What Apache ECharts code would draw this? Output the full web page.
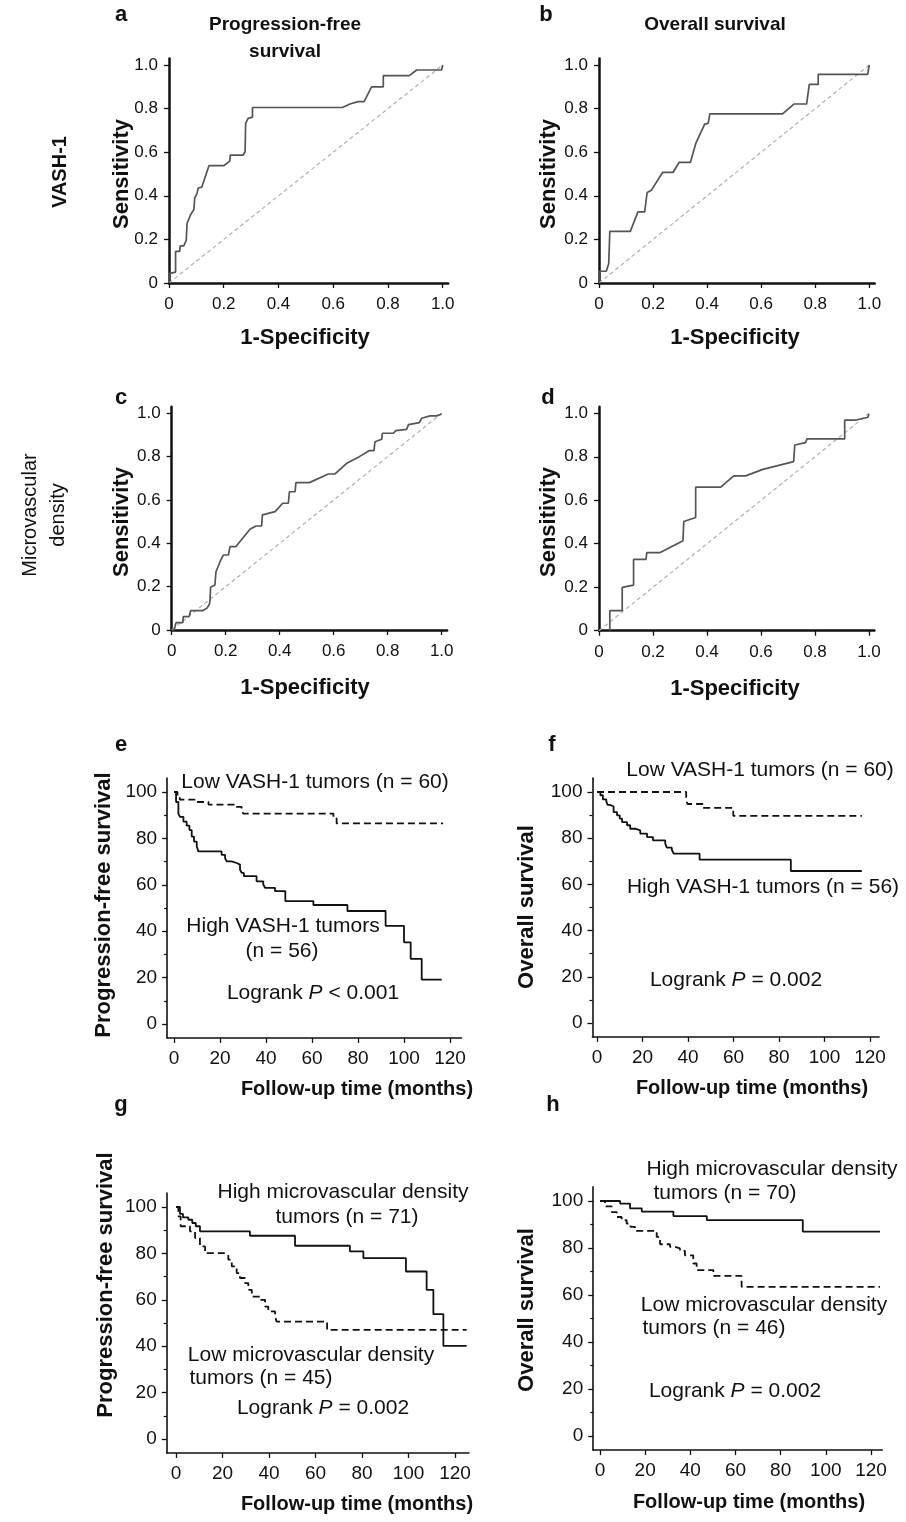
<!DOCTYPE html>
<html>
<head>
<meta charset="utf-8">
<script src="https://cdn.jsdelivr.net/npm/echarts@6/dist/echarts.min.js"></script>
<style>
  html, body { margin: 0; padding: 0; background: #fff; }
  #chart { width: 906px; height: 1522px; }
</style>
</head>
<body>
<div id="chart"></div>
<script>
// ROC curves, points are [1-specificity, sensitivity]
const rocVashPfs = [[0,0],[0,0.043],[0.024,0.05],[0.024,0.145],[0.039,0.145],[0.041,0.17],[0.054,0.17],[0.063,0.196],[0.066,0.273],[0.078,0.311],[0.091,0.338],[0.094,0.39],[0.102,0.41],[0.107,0.436],[0.12,0.44],[0.146,0.538],[0.2,0.538],[0.222,0.559],[0.224,0.587],[0.271,0.587],[0.278,0.602],[0.28,0.732],[0.289,0.755],[0.305,0.761],[0.305,0.805],[0.634,0.805],[0.661,0.821],[0.691,0.832],[0.713,0.832],[0.74,0.9],[0.783,0.9],[0.783,0.951],[0.878,0.951],[0.905,0.977],[0.996,0.977],[1,1]];
const rocVashOs = [[0,0],[0,0.054],[0.027,0.054],[0.036,0.089],[0.04,0.237],[0.116,0.237],[0.144,0.326],[0.169,0.326],[0.178,0.415],[0.194,0.426],[0.235,0.507],[0.274,0.507],[0.296,0.553],[0.338,0.553],[0.358,0.64],[0.391,0.729],[0.404,0.732],[0.41,0.776],[0.679,0.776],[0.721,0.821],[0.768,0.821],[0.778,0.911],[0.811,0.911],[0.811,0.957],[0.994,0.957],[1,1]];
const rocMvdPfs = [[0,0],[0.009,0],[0.016,0.034],[0.041,0.034],[0.043,0.062],[0.065,0.062],[0.07,0.089],[0.114,0.089],[0.13,0.1],[0.14,0.12],[0.142,0.138],[0.144,0.197],[0.16,0.208],[0.164,0.269],[0.179,0.315],[0.191,0.346],[0.21,0.346],[0.216,0.385],[0.238,0.385],[0.29,0.465],[0.312,0.48],[0.333,0.48],[0.336,0.531],[0.383,0.546],[0.411,0.585],[0.432,0.585],[0.436,0.638],[0.457,0.638],[0.46,0.68],[0.51,0.68],[0.58,0.72],[0.605,0.72],[0.648,0.769],[0.695,0.8],[0.732,0.828],[0.749,0.828],[0.753,0.869],[0.778,0.88],[0.78,0.908],[0.821,0.908],[0.83,0.92],[0.87,0.926],[0.877,0.948],[0.917,0.957],[0.926,0.977],[0.957,0.988],[0.981,0.988],[1,0.997]];
const rocMvdOs = [[0.04,0],[0.04,0.092],[0.086,0.092],[0.086,0.199],[0.128,0.21],[0.128,0.328],[0.174,0.328],[0.177,0.359],[0.225,0.359],[0.311,0.414],[0.314,0.502],[0.358,0.521],[0.358,0.66],[0.451,0.66],[0.499,0.712],[0.543,0.712],[0.607,0.742],[0.721,0.778],[0.725,0.854],[0.765,0.865],[0.77,0.882],[0.91,0.882],[0.91,0.969],[0.953,0.969],[0.996,0.982],[1,0.997]];
const diagonal = [[0,0],[1,1]];
const rocTicks = [0, 0.2, 0.4, 0.6, 0.8, 1];

// Kaplan-Meier curves, points are [months, survival %] (value after each drop)
const kmLowVashPfs = [[0,100],[1.5,97.6],[2.5,96.7],[9,95.7],[15,94.6],[26.5,93.6],[29.4,92.2],[30.1,90.7],[69.3,88.6],[70.7,86.5],[117,86.5]];
const kmHighVashPfs = [[0,100],[0.9,95.7],[1.9,90.7],[2.6,89.3],[4.1,87.2],[5.5,85.5],[6.7,83.6],[7.7,80.8],[8.7,78.6],[9.9,76.5],[10.6,74.4],[20.7,72.9],[22.2,71.5],[22.9,70.1],[25.1,69.4],[27.2,68.7],[28.7,66.5],[29.5,65.1],[30.4,63.7],[35.9,61.5],[38.8,60.1],[39.6,58.7],[43.9,57.3],[48.4,53],[60.6,51.3],[75.4,48.7],[92,42.3],[100,35.2],[102.9,28.1],[107.7,19.1],[116.4,19.1]];
const kmLowVashOs = [[0,100],[39.2,96.4],[39.8,94.8],[46.5,93.1],[59.9,89.7],[116.4,89.7]];
const kmHighVashOs = [[0,100],[1.5,98.6],[2.6,96.8],[4.1,95.8],[4.7,94.4],[5.9,93.7],[7.3,91.3],[8.8,89.9],[10,88.5],[11,87],[13.2,85.6],[14.6,84.1],[16.8,83.4],[19,82],[22,80.5],[24.6,79.1],[30,77.6],[30.7,75.9],[32.9,75],[33.7,73.3],[45.1,70.7],[85.2,65.8],[116.4,65.8]];
const kmHighMvdPfs = [[0,100],[1.7,97],[3,95.5],[5.3,94.5],[7,93.1],[8.5,91.7],[10.3,89.5],[31.8,87.6],[51.2,83.3],[74.8,80.9],[80.6,78],[98.9,72.2],[107.8,64.3],[110.7,53.8],[115,40.1],[125,40.1]];
const kmLowMvdPfs = [[0,100],[1,96],[2,91.7],[6,89.5],[8.2,86.6],[10.3,83],[12.5,80.1],[21.1,79.4],[22.5,77.3],[24,74.4],[26.1,71.5],[27.5,69.4],[29.7,67.2],[31.1,64.3],[32.6,61.4],[36.1,60],[38.3,57.1],[39.7,55],[42.6,52.8],[43.3,50.6],[65,47],[125,47]];
const kmHighMvdOs = [[0,100],[8.9,98.9],[13.3,96.9],[18.5,95.5],[32.5,93.6],[47.3,91.9],[89.8,87],[124,87]];
const kmLowMvdOs = [[0,100],[2.2,97.7],[5.2,95.3],[7.4,93.2],[9.6,91.8],[11.8,90.4],[13.5,89],[15.5,87.3],[25.1,84.7],[26.6,81.6],[31,80.5],[33.2,79.8],[35.4,78.8],[37.6,76.9],[41.3,73.4],[42.8,70.6],[50.2,68.1],[62.7,63.5],[124,63.5]];
const kmTicksX = [0, 20, 40, 60, 80, 100, 120];
const kmTicksY = [0, 20, 40, 60, 80, 100];
const kmMinorY = [10, 30, 50, 70, 90];

const FONT = '"Liberation Sans", Arial, sans-serif';

// pixel placement of each panel: where two reference values sit, plus the axis range
const panels = [
  { x: [169, 442.7, 0, 1], xr: [0, 1.02], y: [283, 65, 0, 1], yr: [0, 1.03], roc: rocVashPfs },
  { x: [599, 869.3, 0, 1], xr: [0, 1.02], y: [283, 65, 0, 1], yr: [0, 1.03], roc: rocVashOs },
  { x: [171.7, 441.7, 0, 1], xr: [0, 1.02], y: [630, 413.3, 0, 1], yr: [0, 1.03], roc: rocMvdPfs },
  { x: [599, 869, 0, 1], xr: [0, 1.02], y: [630.7, 413.3, 0, 1], yr: [0, 1.03], roc: rocMvdOs },
  { x: [174, 450, 0, 120], xr: [-3, 125], y: [1024, 792, 0, 100], yr: [-6, 106], km: [kmLowVashPfs, kmHighVashPfs] },
  { x: [597, 870, 0, 120], xr: [-2, 124], y: [1023, 792, 0, 100], yr: [-6, 106], km: [kmLowVashOs, kmHighVashOs] },
  { x: [176, 455, 0, 120], xr: [-4, 126], y: [1439, 1207, 0, 100], yr: [-6, 106], km: [kmLowMvdPfs, kmHighMvdPfs] },
  { x: [600, 871, 0, 120], xr: [-3, 125], y: [1436, 1201, 0, 100], yr: [-6, 106], km: [kmLowMvdOs, kmHighMvdOs] }
];

const grid = [], xAxis = [], yAxis = [], series = [], graphic = [];

function txt(text, x, y, size, bold, rotate) {
  graphic.push({
    type: 'text', x: x, y: y, rotation: rotate ? Math.PI / 2 : 0,
    style: {
      text: text, x: 0, y: 0, fill: '#111', fontSize: size, fontFamily: FONT,
      fontWeight: bold ? 'bold' : 'normal', textAlign: 'center', textVerticalAlign: 'middle',
      rich: { n: { fontSize: size, fontFamily: FONT, fill: '#111' },
              i: { fontSize: size, fontFamily: FONT, fill: '#111', fontStyle: 'italic' } }
    }
  });
}

panels.forEach(function (p, i) {
  const kx = (p.x[1] - p.x[0]) / (p.x[3] - p.x[2]);
  const ky = (p.y[0] - p.y[1]) / (p.y[3] - p.y[2]);
  const left = p.x[0] + (p.xr[0] - p.x[2]) * kx;
  const top = p.y[0] - (p.yr[1] - p.y[2]) * ky;
  p.bottom = p.y[0] - (p.yr[0] - p.y[2]) * ky;
  grid.push({ left: left, top: top, width: (p.xr[1] - p.xr[0]) * kx, height: (p.yr[1] - p.yr[0]) * ky });
  const isRoc = !!p.roc;
  const lw = isRoc ? 2.5 : 1.6;
  const fmt = function (v) { return isRoc ? (v === 0 ? '0' : v.toFixed(1)) : String(v); };
  const lab = { fontSize: isRoc ? 17 : 19, fontFamily: FONT, color: '#111', formatter: fmt };
  xAxis.push({
    type: 'value', gridIndex: i, min: p.xr[0], max: p.xr[1],
    axisLine: { show: true, onZero: false, lineStyle: { color: '#111', width: lw } },
    axisTick: { show: true, length: 5, lineStyle: { color: '#111', width: 1.3 }, customValues: isRoc ? rocTicks : kmTicksX },
    axisLabel: Object.assign({ margin: isRoc ? 13 : 11, customValues: isRoc ? rocTicks : kmTicksX }, lab),
    splitLine: { show: false }
  });
  yAxis.push({
    type: 'value', gridIndex: i, min: p.yr[0], max: p.yr[1],
    axisLine: { show: true, onZero: false, lineStyle: { color: '#111', width: lw } },
    axisTick: { show: true, length: 5, lineStyle: { color: '#111', width: 1.3 }, customValues: isRoc ? rocTicks : kmTicksY },
    axisLabel: Object.assign({ margin: isRoc ? 11 : 10, customValues: isRoc ? rocTicks : kmTicksY }, lab),
    splitLine: { show: false }
  });
  if (isRoc) {
    series.push({
      type: 'line', xAxisIndex: i, yAxisIndex: i, data: diagonal, symbol: 'none', silent: true,
      lineStyle: { color: '#b0b0b0', width: 1.2, type: [4, 3] }
    });
    series.push({
      type: 'line', xAxisIndex: i, yAxisIndex: i, data: p.roc, symbol: 'none',
      lineStyle: { color: '#555', width: 1.7 }
    });
  } else {
    series.push({
      type: 'line', xAxisIndex: i, yAxisIndex: i, data: p.km[0], step: 'end', symbol: 'none',
      lineStyle: { color: '#111', width: 1.8, type: [7, 4] }
    });
    series.push({
      type: 'line', xAxisIndex: i, yAxisIndex: i, data: p.km[1], step: 'end', symbol: 'none',
      lineStyle: { color: '#111', width: 1.8 }
    });
  }
});

// minor ticks on the survival axes
[4, 5, 6, 7].forEach(function (i) {
  const p = panels[i];
  yAxis.push({
    type: 'value', gridIndex: i, min: p.yr[0], max: p.yr[1], position: 'left',
    axisLine: { show: false, onZero: false }, axisLabel: { show: false }, splitLine: { show: false },
    axisTick: { show: true, length: 3, lineStyle: { color: '#111', width: 1.2 }, customValues: kmMinorY }
  });
});

// panel letters
[['a', 121, 15], ['b', 546, 15], ['c', 121, 398], ['d', 548, 398],
 ['e', 121, 745], ['f', 552, 745], ['g', 121, 1105], ['h', 553, 1105]].forEach(function (l) {
  txt(l[0], l[1], l[2], 22, true);
});

// column and row headings
txt('Progression-free', 285, 25, 19, true);
txt('survival', 285, 52, 19, true);
txt('Overall survival', 715, 25, 19, true);
txt('VASH-1', 60, 172, 20, true, true);
txt('Microvascular', 30, 515, 20, false, true);
txt('density', 58, 515, 20, false, true);

// axis titles
txt('Sensitivity', 122, 174, 22, true, true);
txt('Sensitivity', 549, 174, 22, true, true);
txt('Sensitivity', 122, 522, 22, true, true);
txt('Sensitivity', 549, 522, 22, true, true);
txt('1-Specificity', 305, panels[0].bottom + 55, 22, true);
txt('1-Specificity', 735, panels[1].bottom + 55, 22, true);
txt('1-Specificity', 305, panels[2].bottom + 58, 22, true);
txt('1-Specificity', 735, panels[3].bottom + 58, 22, true);
txt('Progression-free survival', 104, 905, 22, true, true);
txt('Overall survival', 527, 907, 22, true, true);
txt('Progression-free survival', 106, 1285, 22, true, true);
txt('Overall survival', 527, 1310, 22, true, true);
txt('Follow-up time (months)', 357, panels[4].bottom + 52, 20, true);
txt('Follow-up time (months)', 752, panels[5].bottom + 52, 20, true);
txt('Follow-up time (months)', 357, panels[6].bottom + 52, 20, true);
txt('Follow-up time (months)', 749, panels[7].bottom + 52, 20, true);

// group labels and log-rank tests
txt('Low VASH-1 tumors (n = 60)', 315, 782, 21);
txt('High VASH-1 tumors', 283, 926, 21);
txt('(n = 56)', 282, 951, 21);
txt('{n|Logrank }{i|P}{n| < 0.001}', 313, 993, 21);
txt('Low VASH-1 tumors (n = 60)', 760, 770, 21);
txt('High VASH-1 tumors (n = 56)', 763, 887, 21);
txt('{n|Logrank }{i|P}{n| = 0.002}', 736, 980, 21);
txt('High microvascular density', 343, 1192, 21);
txt('tumors (n = 71)', 347, 1217, 21);
txt('Low microvascular density', 311, 1355, 21);
txt('tumors (n = 45)', 261, 1378, 21);
txt('{n|Logrank }{i|P}{n| = 0.002}', 323, 1408, 21);
txt('High microvascular density', 772, 1169, 21);
txt('tumors (n = 70)', 725, 1193, 21);
txt('Low microvascular density', 764, 1305, 21);
txt('tumors (n = 46)', 714, 1328, 21);
txt('{n|Logrank }{i|P}{n| = 0.002}', 735, 1391, 21);

const chart = echarts.init(document.getElementById('chart'), null, { renderer: 'canvas' });
chart.setOption({
  backgroundColor: '#fff',
  animation: false,
  grid: grid,
  xAxis: xAxis,
  yAxis: yAxis,
  series: series,
  graphic: graphic
});
</script>
</body>
</html>
